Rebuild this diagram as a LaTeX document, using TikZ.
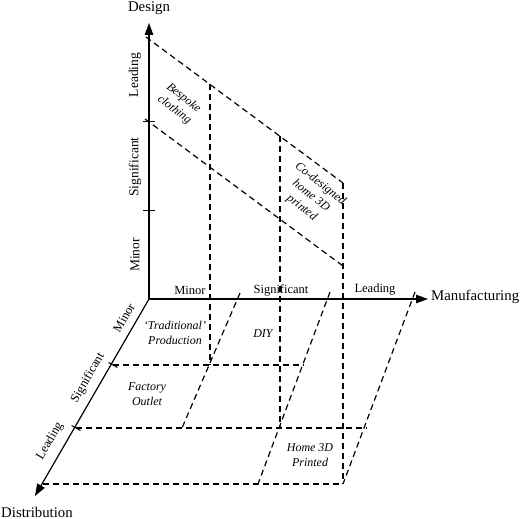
\documentclass[tikz,border=0pt]{standalone}
\usepackage{fontspec}
\setmainfont{Liberation Serif}
\usetikzlibrary{arrows.meta}
\begin{document}
\begin{tikzpicture}[x=1pt,y=-1pt,
  axis/.style={line width=1.2pt,-{Triangle[length=12pt,width=8.5pt]}},
  tickln/.style={line width=1pt},
  dsh/.style={line width=1.2pt,dash pattern=on 6pt off 4pt},
  big/.style={font=\fontsize{14.8}{16}\selectfont,inner sep=0pt},
  lab/.style={font=\fontsize{12.5}{14}\selectfont,inner sep=0pt},
  dlab/.style={font=\fontsize{13.5}{15}\selectfont,inner sep=0pt,rotate=90},
  it/.style={font=\fontsize{12}{15}\selectfont\itshape,inner sep=0pt,align=center}]
\useasboundingbox (0,0) rectangle (520,519);
% axes
\coordinate (O) at (149,299);
\coordinate (M) at (428,299);
\coordinate (D) at (149,23);
\coordinate (S) at (35,496);
\draw[axis] (O) -- (M);
\draw[axis] (O) -- (D);
\draw[axis] (O) -- (S);
\node[big,anchor=west] (mlab) at (431,297) {Manufacturing};
\node[big] (dlabel) at (149,8) {Design};
\node[big] (slab) at (37,512) {Distribution};
% design ticks
\coordinate (dt1a) at (143,122); \coordinate (dt1b) at (155,122);
\coordinate (dt2a) at (143,210); \coordinate (dt2b) at (155,210);
\draw[tickln] (dt1a) -- (dt1b);
\draw[tickln] (dt2a) -- (dt2b);
% distribution ticks
\coordinate (st1a) at (108.5,362.5); \coordinate (st1b) at (117.5,367.5);
\coordinate (st2a) at (71.5,425.5); \coordinate (st2b) at (80.5,430.5);
\draw[tickln] (st1a) -- (st1b);
\draw[tickln] (st2a) -- (st2b);
% design plane
\coordinate (p1) at (146,37);  \coordinate (p2) at (343,183);
\coordinate (p3) at (145,119); \coordinate (p4) at (343,266);
\draw[dsh] (p1) -- (p2);
\draw[dsh] (p3) -- (p4);
% verticals
\coordinate (v1a) at (210,84);  \coordinate (v1b) at (210,365);
\coordinate (v2a) at (280,136); \coordinate (v2b) at (280,428);
\coordinate (v3b) at (343,484);
\draw[dsh] (v1a) -- (v1b);
\draw[dsh] (v2a) -- (v2b);
\draw[dsh] (p2) -- (v3b);
% floor horizontals
\coordinate (h1a) at (113,365); \coordinate (h1b) at (304,365);
\coordinate (h2a) at (76,428);  \coordinate (h2b) at (367,428);
\coordinate (h3a) at (43,484);
\draw[dsh] (h1a) -- (h1b);
\draw[dsh] (h2a) -- (h2b);
\draw[dsh] (h3a) -- (v3b);
% floor slants
\coordinate (s1a) at (240,293); \coordinate (s1b) at (182,428);
\coordinate (s2a) at (330,292); \coordinate (s2b) at (258,484);
\coordinate (s3a) at (415,292); \coordinate (s3b) at (343,484);
\draw[dsh] (s1a) -- (s1b);
\draw[dsh] (s2a) -- (s2b);
\draw[dsh] (s3a) -- (s3b);
% axis labels
\node[dlab] (dl1) at (135,75) {Leading};
\node[dlab] (dl2) at (135,167) {Significant};
\node[dlab] (dl3) at (135,255) {Minor};
\node[lab] (ml1) at (190,290) {Minor};
\node[lab] (ml2) at (281,290) {Significant};
\node[lab] (ml3) at (375,290) {Leading};
\node[lab,rotate=60] (sl1) at (124,318) {Minor};
\node[lab,rotate=60] (sl2) at (88,378) {Significant};
\node[lab,rotate=60] (sl3) at (50,441) {Leading};
% region labels
\node[it,rotate=-38] (bc) at (179,104) {Bespoke\\clothing};
\node[it,rotate=-38] (cd) at (311,196) {Co-designed\\home 3D\\printed};
\node[it] (tp) at (175,333) {`Traditional'\\Production};
\node[it] (diy) at (263,334) {DIY};
\node[it] (fo) at (147,394) {Factory\\Outlet};
\node[it] (h3) at (310,455) {Home 3D\\Printed};
\end{tikzpicture}
\end{document}
